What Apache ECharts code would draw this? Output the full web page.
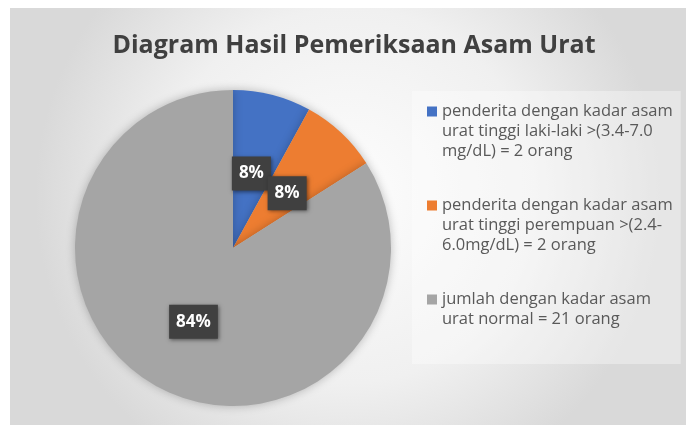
<!DOCTYPE html>
<html>
<head>
<meta charset="utf-8">
<script src="https://cdn.jsdelivr.net/npm/echarts@6/dist/echarts.min.js"></script>
<style>
  html, body { margin: 0; padding: 0; background: #fff; }
  #chart { position: absolute; left: 10px; top: 8px; width: 676px; height: 417px; }
</style>
</head>
<body>
<div id="chart"></div>
<script>
// data
var names = [
  'penderita dengan kadar asam urat tinggi laki-laki >(3.4-7.0 mg/dL) = 2 orang',
  'penderita dengan kadar asam urat tinggi perempuan >(2.4-6.0mg/dL) = 2 orang',
  'jumlah dengan kadar asam urat normal = 21 orang'
];
var legendLines = [
  ['penderita dengan kadar asam', 'urat tinggi laki-laki >(3.4-7.0', 'mg/dL) = 2 orang'],
  ['penderita dengan kadar asam', 'urat tinggi perempuan >(2.4-', '6.0mg/dL) = 2 orang'],
  ['jumlah dengan kadar asam', 'urat normal = 21 orang']
];
var values = [2, 2, 21];
var colors = ['#4472c4', '#ed7d31', '#a5a5a5'];

var myChart = echarts.init(document.getElementById('chart'));

var rich = {
  sp: { width: 10, height: 10, lineHeight: 20 },
  t: { fontSize: 16.5, color: '#595959', fontFamily: 'Open Sans', lineHeight: 20, padding: [0, 0, 0, 5] }
};
colors.forEach(function (c, i) {
  rich['m' + i] = { width: 10, height: 10, backgroundColor: c, lineHeight: 20 };
});

var option = {
  backgroundColor: {
    type: 'radial', x: 0.5, y: 0.45, r: 0.75,
    colorStops: [
      { offset: 0, color: '#fdfdfd' },
      { offset: 0.6, color: '#f0f0f0' },
      { offset: 1, color: '#d9d9d9' }
    ]
  },
  title: {
    text: 'Diagram Hasil Pemeriksaan Asam Urat',
    left: 339, top: 20, textAlign: 'center',
    textStyle: { fontFamily: 'Open Sans', fontWeight: 'bold', fontSize: 25, color: '#404040' }
  },
  legend: {
    orient: 'vertical',
    left: 402, top: 83,
    padding: [12, 8, 36, 10],
    itemWidth: 0, itemHeight: 0,
    itemGap: 37,
    backgroundColor: 'rgba(255,255,255,0.35)',
    data: names,
    formatter: function (name) {
      var i = names.indexOf(name);
      return legendLines[i].map(function (l, j) {
        return (j === 0 ? '{m' + i + '|}' : '{sp|}') + '{t|' + l + '}';
      }).join('\n');
    },
    textStyle: { rich: rich }
  },
  series: [{
    type: 'pie',
    center: [223, 240],
    radius: 158,
    startAngle: 90,
    clockwise: true,
    animation: false,
    avoidLabelOverlap: false,
    labelLayout: { hideOverlap: false },
    itemStyle: { shadowBlur: 10, shadowColor: 'rgba(0,0,0,0.25)' },
    label: {
      position: 'inside',
      formatter: function (p) { return Math.round(p.percent) + '%'; },
      color: '#ffffff',
      fontFamily: 'Open Sans',
      fontWeight: 'bold',
      fontSize: 17,
      lineHeight: 20,
      backgroundColor: '#404040',
      padding: [7, 7],
      shadowBlur: 4,
      shadowOffsetX: 1,
      shadowOffsetY: 1,
      shadowColor: 'rgba(0,0,0,0.5)'
    },
    labelLine: { show: false },
    data: names.map(function (n, i) {
      var d = { name: n, value: values[i], itemStyle: { color: colors[i] } };
      d.label = { offset: i === 2 ? [0, 2] : [-2, 5] };
      return d;
    })
  }]
};

myChart.setOption(option);
</script>
</body>
</html>
